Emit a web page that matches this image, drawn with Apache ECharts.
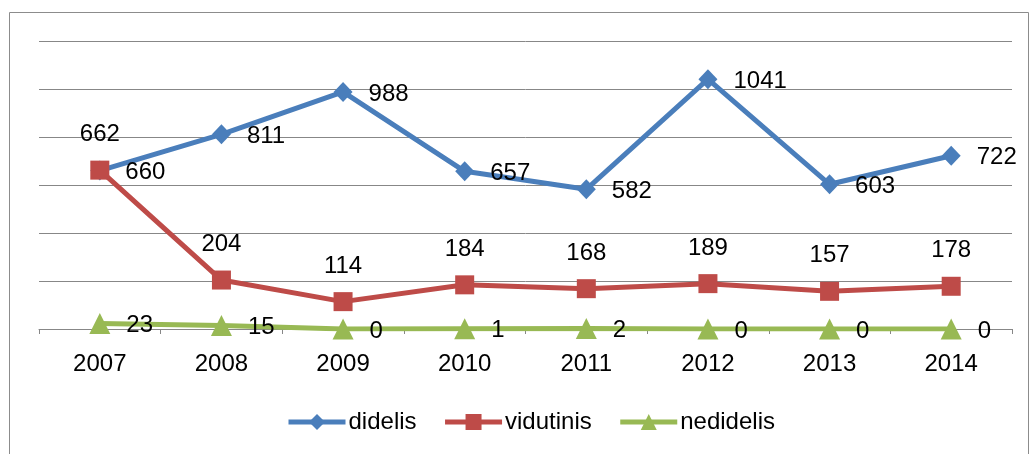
<!DOCTYPE html>
<html><head><meta charset="utf-8">
<script src="https://cdn.jsdelivr.net/npm/echarts@6/dist/echarts.min.js"></script>
<style>html,body{margin:0;padding:0;background:#fff}#c{width:1030px;height:454px}</style>
</head><body><div id="c"></div>
<script>
const years = ['2007','2008','2009','2010','2011','2012','2013','2014'];
const didelis = [660, 811, 988, 657, 582, 1041, 603, 722];
const vidutinis = [662, 204, 114, 184, 168, 189, 157, 178];
const nedidelis = [23, 15, 0, 1, 2, 0, 0, 0];
const seriesNames = ['didelis', 'vidutinis', 'nedidelis'];

const FONT = '"Liberation Sans", Arial, sans-serif';
const chart = echarts.init(document.getElementById('c'), null, {renderer: 'canvas'});
const lbl = {fontFamily: FONT, fontSize: 24, color: '#000'};
chart.setOption({
  animation: false,
  backgroundColor: '#fff',
  graphic: [{type: 'rect', shape: {x: 9.5, y: 12.5, width: 1019, height: 450}, style: {fill: 'none', stroke: '#8c8c8c', lineWidth: 1}, silent: true, z: -1}],
  grid: {left: 39, right: 18, top: 41, bottom: 125},
  legend: {
    top: 405, left: 281, itemWidth: 57, itemHeight: 20, itemGap: 26,
    lineStyle: {width: 5},
    textStyle: {fontFamily: FONT, fontSize: 24, color: '#000', padding: [0, 0, 0, -2]},
    data: seriesNames
  },
  xAxis: {
    type: 'category', data: years, boundaryGap: true,
    axisLine: {lineStyle: {color: '#878787', width: 1}},
    axisTick: {show: true, length: 5, lineStyle: {color: '#878787'}},
    axisLabel: {margin: 23, fontFamily: FONT, fontSize: 24, color: '#000'}
  },
  yAxis: {
    type: 'value', min: 0, max: 1200, interval: 200,
    axisLine: {show: false}, axisTick: {show: false}, axisLabel: {show: false},
    splitLine: {lineStyle: {color: '#878787', width: 1}}
  },
  series: [
    {name: seriesNames[0], type: 'line', data: didelis, symbol: 'diamond', symbolSize: [19, 20],
     lineStyle: {width: 5, color: '#4a7ebb'}, itemStyle: {color: '#4a7ebb'},
     label: Object.assign({show: true, position: 'right', distance: 16, offset: [0, 2]}, lbl)},
    {name: seriesNames[1], type: 'line', data: vidutinis, symbol: 'rect', symbolSize: 19,
     lineStyle: {width: 5, color: '#be4b48'}, itemStyle: {color: '#be4b48'},
     label: Object.assign({show: true, position: 'top', distance: 14}, lbl)},
    {name: seriesNames[2], type: 'line', data: nedidelis, symbol: 'triangle', symbolSize: 21,
     lineStyle: {width: 5, color: '#98b954'}, itemStyle: {color: '#98b954'},
     label: Object.assign({show: true, position: 'right', distance: 16, offset: [0, 2]}, lbl)}
  ]
});
</script></body></html>
